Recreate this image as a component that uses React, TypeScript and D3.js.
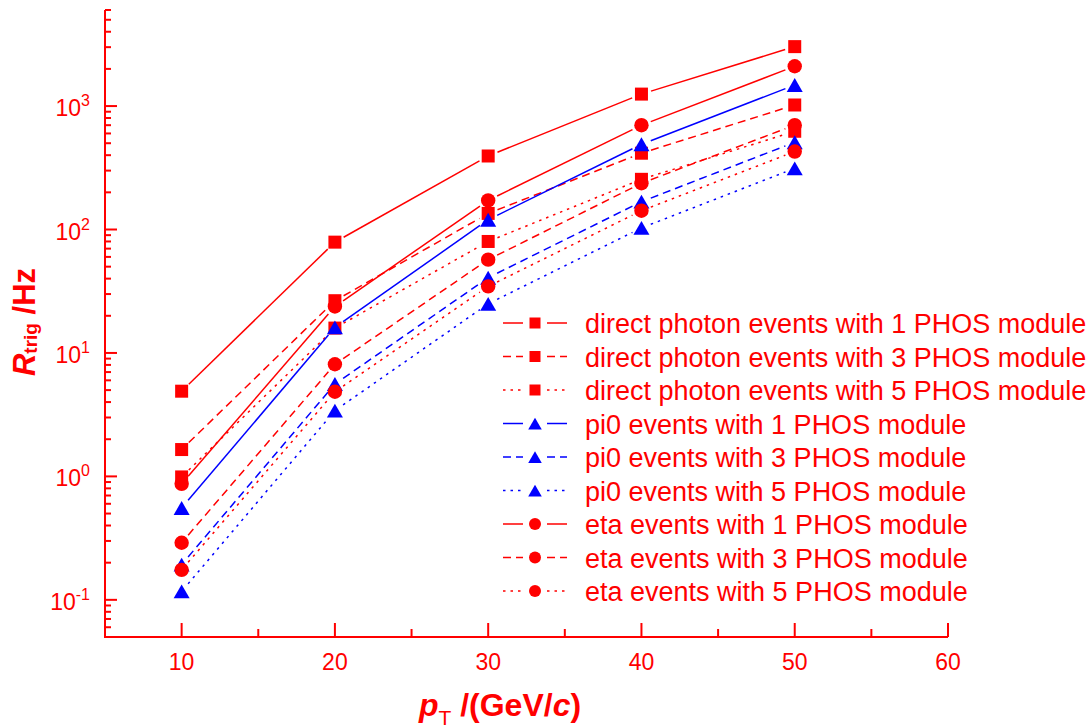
import React from 'react';
import * as d3 from 'd3';

// ---- data ----
const pT = [10, 20, 30, 40, 50];
const direct1 = [4.9, 79, 394, 1250, 3030];
const direct3 = [1.65, 26.5, 135, 415, 1020];
const direct5 = [0.99, 15.9, 80, 255, 625];
const pi0_1 = [0.555, 16.1, 120, 490, 1480];
const pi0_3 = [0.193, 5.6, 40.7, 168, 509];
const pi0_5 = [0.117, 3.41, 25, 103, 313];
const eta1 = [0.87, 23.8, 172, 700, 2100];
const eta3 = [0.29, 8.1, 57, 237, 700];
const eta5 = [0.175, 4.85, 34.6, 142, 428];

const seriesNames = [
  'direct photon events with 1 PHOS module',
  'direct photon events with 3 PHOS module',
  'direct photon events with 5 PHOS module',
  'pi0 events with 1 PHOS module',
  'pi0 events with 3 PHOS module',
  'pi0 events with 5 PHOS module',
  'eta events with 1 PHOS module',
  'eta events with 3 PHOS module',
  'eta events with 5 PHOS module',
];
const seriesValues = [direct1, direct3, direct5, pi0_1, pi0_3, pi0_5, eta1, eta3, eta5];

const xMajorTicks = [10, 20, 30, 40, 50, 60];
const xMinorTicks = [15, 25, 35, 45, 55];
const yExponents = [-1, 0, 1, 2, 3];

// ---- styles ----
const RED = '#ff0000';
const BLUE = '#0000ff';
const FONT = '"Liberation Sans", Arial, Helvetica, sans-serif';
const styles = [
  { color: RED, dash: 'none', sym: 'square' },
  { color: RED, dash: '8,5', sym: 'square' },
  { color: RED, dash: '2.5,5', sym: 'square' },
  { color: BLUE, dash: 'none', sym: 'triangle' },
  { color: BLUE, dash: '8,5', sym: 'triangle' },
  { color: BLUE, dash: '2.5,5', sym: 'triangle' },
  { color: RED, dash: 'none', sym: 'circle' },
  { color: RED, dash: '8,5', sym: 'circle' },
  { color: RED, dash: '2.5,5', sym: 'circle' },
];

const W = 1090;
const H = 728;
const x = d3.scaleLinear().domain([5, 60]).range([105, 948]);
const y = d3.scaleLog().domain([0.05, 6000]).range([637, 10]);

const triSize = 111;
const triPath = d3.symbol().type(d3.symbolTriangle).size(triSize)() as string;
const triOffset = Math.sqrt(triSize / (Math.sqrt(3) * 3)) / 2;

function Marker({ sym, cx, cy, color }: { sym: string; cx: number; cy: number; color: string }) {
  if (sym === 'square') {
    return <rect x={cx - 6.5} y={cy - 6.5} width={13} height={13} fill={color} />;
  }
  if (sym === 'circle') {
    return <circle cx={cx} cy={cy} r={7.2} fill={color} />;
  }
  return <path d={triPath} transform={`translate(${cx},${cy + triOffset})`} fill={color} />;
}

function gapSegments(pts: [number, number][], gap: number) {
  const segs: [number, number, number, number][] = [];
  for (let i = 0; i < pts.length - 1; i++) {
    const [x1, y1] = pts[i];
    const [x2, y2] = pts[i + 1];
    const dx = x2 - x1;
    const dy = y2 - y1;
    const len = Math.hypot(dx, dy);
    if (len <= 2 * gap) continue;
    const ux = dx / len;
    const uy = dy / len;
    segs.push([x1 + ux * gap, y1 + uy * gap, x2 - ux * gap, y2 - uy * gap]);
  }
  return segs;
}

export default function App() {
  const yMinor = y.ticks(60).filter((v) => {
    const l = Math.log10(v);
    return Math.abs(l - Math.round(l)) > 1e-6;
  });
  const yMajor = yExponents.map((e) => Math.pow(10, e));
  const line = d3.line<[number, number]>();

  const legendX0 = 503;
  const legendMarkerX = 535;
  const legendTextX = 585;
  const legendY0 = 323;
  const legendDy = 33.5;

  return (
    <svg
      width={W}
      height={H}
      style={{ position: 'absolute', left: 0, top: 0, background: '#fff' }}
      fontFamily={FONT}
    >
      <rect x={0} y={0} width={W} height={H} fill="#fff" />

      {/* series lines */}
      {seriesValues.map((vals, si) => {
        const pts = vals.map((v, i) => [x(pT[i]), y(v)] as [number, number]);
        const segs = gapSegments(pts, 10);
        return (
          <g key={'l' + si}>
            {segs.map((s, k) => (
              <path
                key={k}
                d={line([[s[0], s[1]], [s[2], s[3]]]) as string}
                stroke={styles[si].color}
                strokeWidth={1.5}
                strokeDasharray={styles[si].dash}
                fill="none"
              />
            ))}
          </g>
        );
      })}

      {/* markers */}
      {seriesValues.map((vals, si) => (
        <g key={'m' + si}>
          {vals.map((v, i) => (
            <Marker key={i} sym={styles[si].sym} cx={x(pT[i])} cy={y(v)} color={styles[si].color} />
          ))}
        </g>
      ))}

      {/* axes */}
      <g stroke={RED} strokeWidth={2} fill="none">
        <line x1={105} y1={y(6000)} x2={105} y2={637} />
        <line x1={104} y1={637} x2={x(60)} y2={637} />
        {xMajorTicks.map((t) => (
          <line key={'xM' + t} x1={x(t)} x2={x(t)} y1={637} y2={623} />
        ))}
        {xMinorTicks.map((t) => (
          <line key={'xm' + t} x1={x(t)} x2={x(t)} y1={637} y2={629} />
        ))}
        {yMajor.map((t) => (
          <line key={'yM' + t} x1={105} x2={117} y1={y(t)} y2={y(t)} />
        ))}
        {yMinor.map((t) => (
          <line key={'ym' + t} x1={105} x2={111} y1={y(t)} y2={y(t)} />
        ))}
      </g>

      {/* x tick labels */}
      <g fill={RED} fontSize={23} textAnchor="middle">
        {xMajorTicks.map((t) => (
          <text key={'xl' + t} x={x(t)} y={670}>
            {t}
          </text>
        ))}
      </g>

      {/* y tick labels */}
      <g fill={RED} textAnchor="end">
        {yExponents.map((e) => (
          <text key={'yl' + e} x={90} y={y(Math.pow(10, e)) + 10} fontSize={23}>
            10
            <tspan fontSize={16} dy={-10}>
              {e}
            </tspan>
          </text>
        ))}
      </g>

      {/* axis titles */}
      <text x={500} y={716} fill={RED} textAnchor="middle" fontWeight="bold" fontSize={32}>
        <tspan fontStyle="italic">p</tspan>
        <tspan fontSize={21} fontWeight="normal" dy={9}>T</tspan>
        <tspan dy={-9}> /(GeV/</tspan>
        <tspan fontStyle="italic">c</tspan>
        <tspan>)</tspan>
      </text>
      <text
        transform="translate(35,322) rotate(-90)"
        fill={RED}
        textAnchor="middle"
        fontWeight="bold"
        fontSize={31}
      >
        <tspan fontStyle="italic">R</tspan>
        <tspan fontSize={19} dy={2}>trig</tspan>
        <tspan dy={-2}> /Hz</tspan>
      </text>

      {/* legend */}
      {seriesNames.map((name, i) => {
        const cy = legendY0 + i * legendDy;
        const st = styles[i];
        return (
          <g key={'lg' + i}>
            <line
              x1={legendX0}
              x2={legendMarkerX - 12}
              y1={cy}
              y2={cy}
              stroke={st.color}
              strokeWidth={1.5}
              strokeDasharray={st.dash}
            />
            <line
              x1={legendMarkerX + 12}
              x2={legendMarkerX + 32}
              y1={cy}
              y2={cy}
              stroke={st.color}
              strokeWidth={1.5}
              strokeDasharray={st.dash}
            />
            {st.sym === 'square' && (
              <rect x={legendMarkerX - 5.5} y={cy - 5.5} width={11} height={11} fill={st.color} />
            )}
            {st.sym === 'circle' && <circle cx={legendMarkerX} cy={cy} r={6} fill={st.color} />}
            {st.sym === 'triangle' && (
              <path
                d={d3.symbol().type(d3.symbolTriangle).size(80)() as string}
                transform={`translate(${legendMarkerX},${cy + 2})`}
                fill={st.color}
              />
            )}
            <text x={legendTextX} y={cy + 10} fill={RED} fontSize={27}>
              {name}
            </text>
          </g>
        );
      })}
    </svg>
  );
}
